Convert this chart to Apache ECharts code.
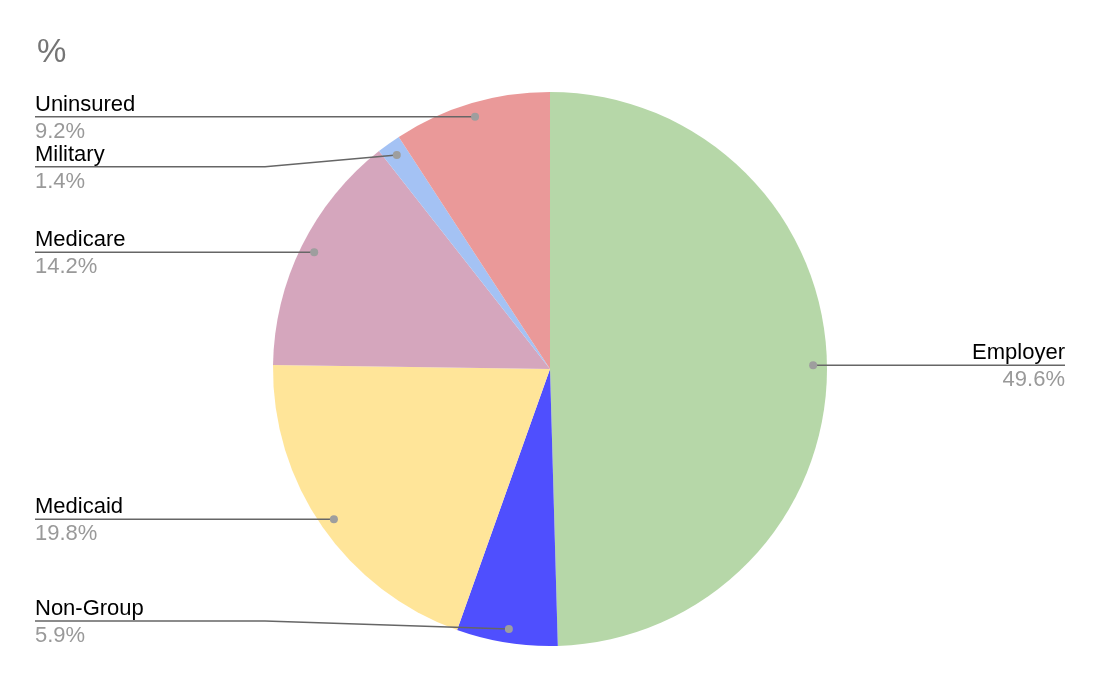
<!DOCTYPE html>
<html><head><meta charset="utf-8">
<script src="https://cdn.jsdelivr.net/npm/echarts@6/dist/echarts.min.js"></script>
<style>html,body{margin:0;padding:0;background:#fff}#c{width:1100px;height:680px}</style>
</head><body><div id="c"></div>
<script>
const categories = ['Employer', 'Non-Group', 'Medicaid', 'Medicare', 'Military', 'Uninsured'];
const values = [49.6, 5.9, 19.8, 14.2, 1.4, 9.2];
const colors = ['#b6d7a8', '#4f4ffe', '#ffe599', '#d5a6bd', '#a4c2f4', '#ea9999'];
const titleText = '%';

const FONT = '"Liberation Sans", Arial, sans-serif';
const CX = 550, CY = 369, R = 277;
const LEFT_EDGE = 35, RIGHT_EDGE = 1065, KNEE_X = 265, GAP = 50;

const total = values.reduce((a, b) => a + b, 0);
const dots = [];
let cum = 0;
values.forEach(v => {
  const a = (cum + v / 2) / total * 2 * Math.PI;
  cum += v;
  dots.push([CX + 0.95 * R * Math.sin(a), CY - 0.95 * R * Math.cos(a)]);
});
// label line y positions with simple anti-overlap on the left side
const lineY = dots.map(d => d[1]);
const adjusted = dots.map(() => false);
const leftIdx = dots.map((d, i) => i).filter(i => dots[i][0] < CX).sort((a, b) => dots[a][1] - dots[b][1]);
let prev = -Infinity;
leftIdx.forEach(i => {
  let y = Math.max(dots[i][1], prev + GAP);
  y = Math.min(y, CY + R - 25);
  if (Math.abs(y - dots[i][1]) > 2) adjusted[i] = true;
  lineY[i] = y; prev = y;
});
const linePts = dots.map((d, i) => {
  const right = d[0] > CX;
  const ex = right ? RIGHT_EDGE : LEFT_EDGE;
  const ly = lineY[i];
  return adjusted[i] ? [[d[0], d[1]], [KNEE_X, ly], [ex, ly]] : [[d[0], d[1]], [ex, ly]];
});

const chart = echarts.init(document.getElementById('c'), null, {renderer: 'canvas'});
chart.setOption({
  animation: false,
  backgroundColor: '#ffffff',
  title: {
    text: titleText, left: 32, top: 31,
    textStyle: {fontSize: 33, fontWeight: 'normal', color: '#757575', fontFamily: FONT}
  },
  series: [{
    type: 'pie',
    center: [CX, CY],
    radius: R,
    startAngle: 90,
    clockwise: true,
    avoidLabelOverlap: false,
    minShowLabelAngle: 0,
    silent: true,
    emphasis: {disabled: true},
    itemStyle: {borderWidth: 0},
    data: categories.map((n, i) => ({name: n, value: values[i], itemStyle: {color: colors[i]}})),
    label: {
      show: true,
      position: 'outside',
      formatter: p => `{n|${p.name}}\n{v|${p.value}%}`,
      rich: {
        n: {fontSize: 22, color: '#000000', lineHeight: 28, fontFamily: FONT},
        v: {fontSize: 22, color: '#999999', lineHeight: 26, fontFamily: FONT}
      }
    },
    labelLine: {show: false},
    labelLayout: function (p) {
      const i = p.dataIndex;
      const right = dots[i][0] > CX;
      return {
        x: right ? RIGHT_EDGE : LEFT_EDGE, y: lineY[i] + 1,
        align: right ? 'right' : 'left', verticalAlign: 'middle'
      };
    }
  }],
  graphic: [
    ...linePts.map(pts => ({
      type: 'polyline', z: 99, silent: true,
      shape: {points: pts},
      style: {stroke: '#666666', lineWidth: 1.5, fill: null}
    })),
    ...dots.map(d => ({
      type: 'circle', z: 100, silent: true,
      shape: {cx: d[0], cy: d[1], r: 4},
      style: {fill: '#9e9e9e'}
    }))
  ]
});
</script></body></html>
